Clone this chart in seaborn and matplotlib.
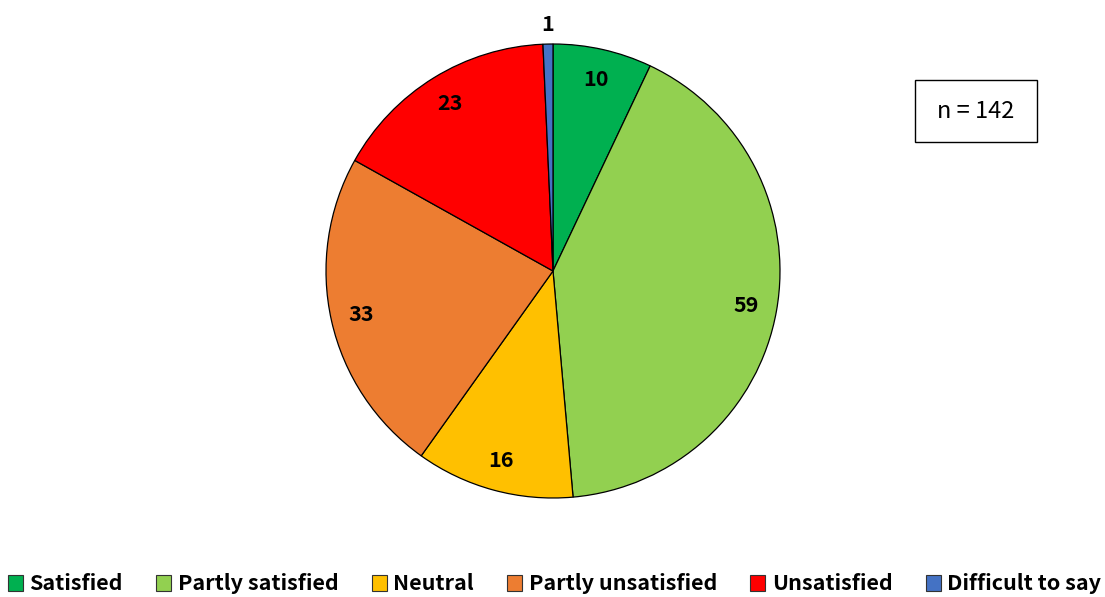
import numpy as np
import matplotlib
matplotlib.use("Agg")
import matplotlib.pyplot as plt
from matplotlib.patches import Patch, Rectangle
import seaborn as sns

sns.set_theme(style="white")
plt.rcParams["font.family"] = ["Noto Sans CJK SC", "DejaVu Sans"]
plt.rcParams["text.color"] = "black"

categories = ["Satisfied", "Partly satisfied", "Neutral", "Partly unsatisfied", "Unsatisfied", "Difficult to say"]
counts = [10, 59, 16, 33, 23, 1]
colors = ["#00B050", "#92D050", "#FFC000", "#ED7D31", "#FF0000", "#4472C4"]
sample_label = "n = 142"

W, H = 1105, 597
fig = plt.figure(figsize=(W / 100, H / 100), dpi=100)
cx, cy, r = 553, 271, 227
ax = fig.add_axes([(cx - r) / W, (H - cy - r) / H, 2 * r / W, 2 * r / H])

wedges, _ = ax.pie(counts, colors=colors, startangle=90, counterclock=False,
                   radius=1.0, wedgeprops=dict(edgecolor="black", linewidth=0.9))
ax.set_aspect("equal")
ax.set_xlim(-1, 1)
ax.set_ylim(-1, 1)

for w, v in zip(wedges, counts):
    ang = np.deg2rad((w.theta1 + w.theta2) / 2)
    d = 1.085 if v < 3 else 0.865
    ax.text(d * np.cos(ang), d * np.sin(ang), str(v), ha="center", va="center",
            fontsize=15.5, fontweight="heavy", color="black")

# sample size box
bx0, by0, bx1, by1 = 915, 80, 1037, 142
fig.patches.append(Rectangle((bx0 / W, 1 - by1 / H), (bx1 - bx0) / W, (by1 - by0) / H,
                             transform=fig.transFigure, facecolor="white",
                             edgecolor="black", linewidth=1.0))
fig.text((bx0 + bx1) / 2 / W, 1 - (by0 + by1) / 2 / H, sample_label,
         ha="center", va="center", fontsize=17, color="black")

handles = [Patch(facecolor=c, edgecolor="#333333", linewidth=0.8) for c in colors]
fig.legend(handles, categories, loc="center", bbox_to_anchor=(0.502, 1 - 584 / H),
           ncol=len(categories), frameon=False, labelcolor="black",
           prop=dict(family=["Noto Sans CJK SC", "DejaVu Sans"], weight="heavy", size=15.5),
           handlelength=0.7, handleheight=0.7, handletextpad=0.3, columnspacing=1.55)

fig.savefig("out.png", dpi=100)
